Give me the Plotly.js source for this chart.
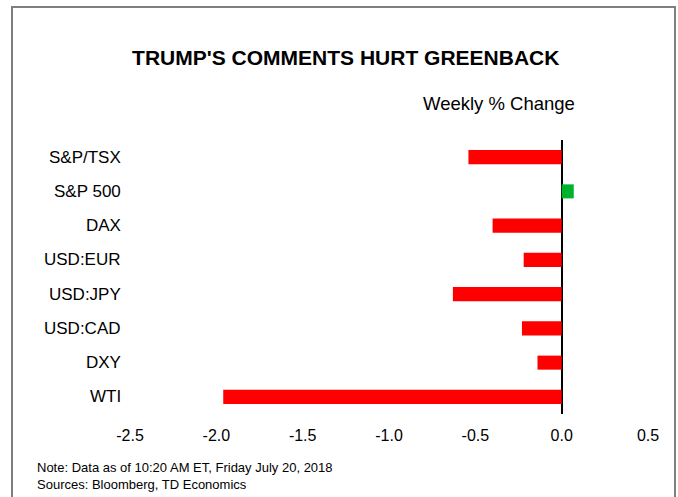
<!DOCTYPE html>
<html>
<head>
<meta charset="utf-8">
<script src="https://cdn.plot.ly/plotly-3.0.1.min.js"></script>
<style>
  html, body { margin: 0; padding: 0; background: #fff; }
  #wrap { position: relative; width: 678px; height: 497px; overflow: hidden; }
  #chart { position: absolute; left: 0; top: 0; width: 678px; height: 497px; }
  #frame { position: absolute; left: 11px; top: 6px; width: 661px; height: 520px;
           border-left: 2px solid #7f7f7f; border-top: 2px solid #7f7f7f; border-right: 2px solid #7f7f7f;
           pointer-events: none; }
</style>
</head>
<body>
<div id="wrap">
  <div id="chart"></div>
  <div id="frame"></div>
</div>
<script>
const categories = ["S&P/TSX", "S&P 500", "DAX", "USD:EUR", "USD:JPY", "USD:CAD", "DXY", "WTI"];
const weeklyChange = [-0.54, 0.07, -0.40, -0.22, -0.63, -0.23, -0.14, -1.96];
const xTicks = [-2.5, -2.0, -1.5, -1.0, -0.5, 0.0, 0.5];
const xTickLabels = ["-2.5", "-2.0", "-1.5", "-1.0", "-0.5", "0.0", "0.5"];

const colors = weeklyChange.map(v => v >= 0 ? "#00B32C" : "#FF0000");
const FONT = "Liberation Sans, Arial, sans-serif";

const trace = {
  type: "bar",
  orientation: "h",
  x: weeklyChange,
  y: categories,
  marker: { color: colors, line: { width: 0 } },
  hoverinfo: "x+y"
};

const labelAnnotations = categories.map(c => ({
  text: c, xref: "paper", yref: "y", x: -0.0135, y: c,
  xanchor: "right", yanchor: "middle", showarrow: false,
  font: { family: FONT, size: 17, color: "#000" }
}));

const layout = {
  width: 678, height: 497,
  margin: { l: 130, r: 30, t: 140, b: 83 },
  paper_bgcolor: "#fff", plot_bgcolor: "#fff",
  showlegend: false,
  bargap: 0.59,
  title: {
    text: "<b>TRUMP'S COMMENTS HURT GREENBACK</b>",
    font: { family: FONT, size: 21, color: "#000" },
    x: 0.51, xanchor: "center", y: 0.883, yanchor: "middle"
  },
  xaxis: {
    range: [-2.5, 0.5],
    tickvals: xTicks, ticktext: xTickLabels,
    showgrid: false, showline: false, ticks: "",
    zeroline: true, zerolinecolor: "#000", zerolinewidth: 2,
    tickfont: { family: FONT, size: 16, color: "#000" },
    ticklabelstandoff: 10
  },
  yaxis: {
    type: "category",
    categoryorder: "array", categoryarray: categories,
    range: [7.5, -0.5],
    showticklabels: false, showgrid: false, showline: false, ticks: "", zeroline: false
  },
  annotations: labelAnnotations.concat([
    { text: "Weekly % Change", xref: "paper", yref: "paper", x: 0.862, y: 1.135,
      xanchor: "right", yanchor: "middle", showarrow: false,
      font: { family: FONT, size: 18.5, color: "#000" } },
    { text: "Note: Data as of 10:20 AM ET, Friday July 20, 2018<br>Sources: Bloomberg, TD Economics",
      xref: "paper", yref: "paper", x: -0.184, y: -0.16, align: "left",
      xanchor: "left", yanchor: "top", showarrow: false,
      font: { family: FONT, size: 13, color: "#000" } }
  ])
};

Plotly.newPlot("chart", [trace], layout, { displayModeBar: false, staticPlot: true });
</script>
</body>
</html>
